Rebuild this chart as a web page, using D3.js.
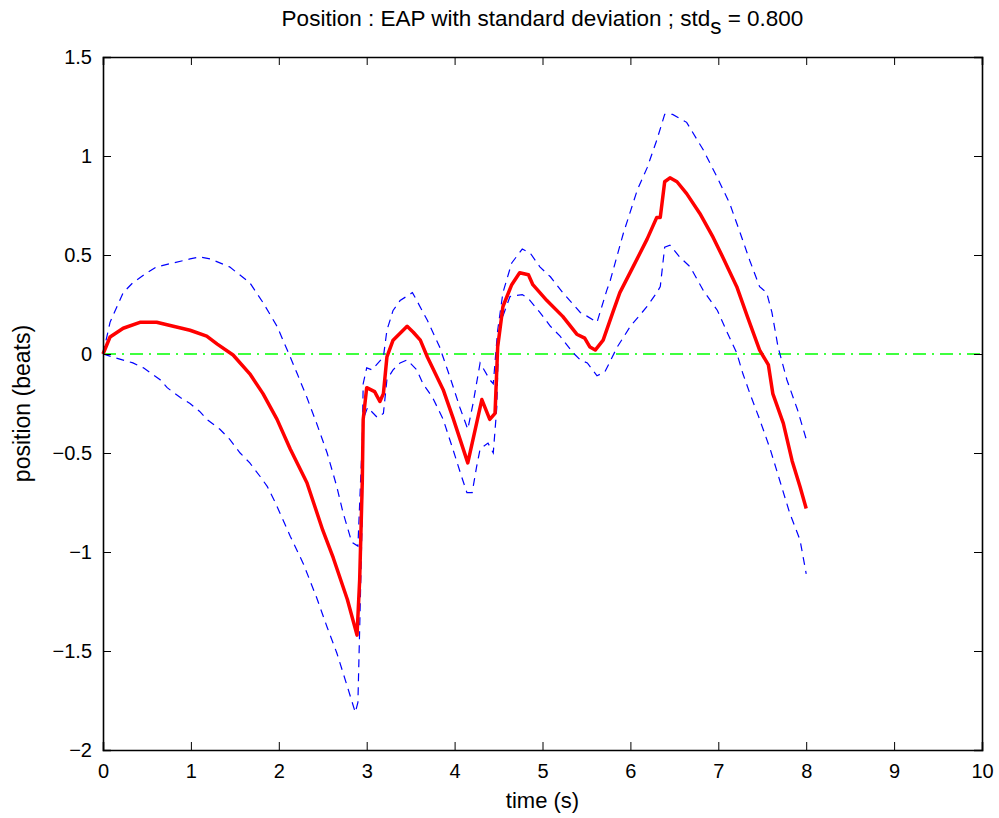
<!DOCTYPE html>
<html>
<head>
<meta charset="utf-8">
<script src="https://cdn.jsdelivr.net/npm/d3@7"></script>
<style>
  body { margin: 0; background: #fff; }
  svg { font-family: "Liberation Sans", Arial, sans-serif; }
</style>
</head>
<body>
<svg id="output"></svg>
<script>
// mean position (EAP), [time, beats]
const meanSeries = [
  [0,0],[0.08,0.086],[0.23,0.13],[0.42,0.16],[0.61,0.16],[0.80,0.14],[0.99,0.12],[1.18,0.09],
  [1.30,0.05],[1.48,-0.005],[1.67,-0.10],[1.82,-0.20],[1.98,-0.33],[2.13,-0.48],[2.32,-0.65],
  [2.50,-0.89],[2.62,-1.03],[2.78,-1.24],[2.89,-1.42],[2.92,-1.14],[2.95,-0.64],[2.96,-0.33],
  [3.00,-0.17],[3.09,-0.19],[3.15,-0.24],[3.19,-0.20],[3.23,-0.015],[3.30,0.07],[3.46,0.14],
  [3.53,0.11],[3.61,0.07],[3.69,-0.015],[3.87,-0.18],[3.98,-0.32],[4.15,-0.55],[4.25,-0.35],
  [4.31,-0.23],[4.40,-0.33],[4.46,-0.30],[4.49,0.035],[4.55,0.24],[4.65,0.35],[4.74,0.41],
  [4.84,0.40],[4.89,0.35],[5.05,0.27],[5.23,0.19],[5.39,0.10],[5.48,0.08],[5.54,0.035],
  [5.60,0.02],[5.69,0.07],[5.80,0.21],[5.88,0.31],[6.03,0.44],[6.19,0.58],[6.30,0.69],
  [6.34,0.69],[6.39,0.87],[6.45,0.89],[6.53,0.87],[6.64,0.81],[6.79,0.71],[6.94,0.59],
  [7.05,0.49],[7.21,0.34],[7.33,0.19],[7.47,0.02],[7.57,-0.055],[7.62,-0.20],[7.74,-0.35],
  [7.84,-0.54],[7.93,-0.67],[8.00,-0.78]
];

// mean + std
const upperSeries = [
  [0,0],[0.08,0.16],[0.23,0.31],[0.34,0.36],[0.50,0.41],[0.61,0.44],[0.80,0.46],[0.99,0.48],
  [1.10,0.49],[1.22,0.48],[1.44,0.44],[1.67,0.36],[1.82,0.26],[1.98,0.14],[2.13,-0.015],
  [2.21,-0.10],[2.32,-0.22],[2.43,-0.35],[2.55,-0.50],[2.66,-0.67],[2.73,-0.80],[2.83,-0.95],
  [2.90,-0.97],[2.95,-0.43],[2.96,-0.15],[3.00,-0.07],[3.06,-0.08],[3.19,-0.015],[3.23,0.12],
  [3.30,0.22],[3.38,0.27],[3.52,0.31],[3.57,0.27],[3.69,0.17],[3.83,0.035],[3.95,-0.12],
  [4.06,-0.27],[4.15,-0.38],[4.21,-0.25],[4.29,-0.045],[4.40,-0.13],[4.44,-0.15],[4.49,0.12],
  [4.55,0.31],[4.65,0.46],[4.77,0.53],[4.86,0.51],[4.97,0.44],[5.09,0.39],[5.23,0.31],
  [5.43,0.21],[5.51,0.19],[5.62,0.16],[5.73,0.32],[5.77,0.37],[5.92,0.61],[6.08,0.83],
  [6.19,0.94],[6.30,1.08],[6.39,1.21],[6.48,1.21],[6.64,1.17],[6.83,1.03],[6.99,0.89],
  [7.13,0.76],[7.25,0.61],[7.36,0.47],[7.47,0.34],[7.55,0.31],[7.61,0.21],[7.68,0.035],
  [7.78,-0.13],[7.90,-0.28],[8.00,-0.43]
];

// mean - std
const lowerSeries = [
  [0,0],[0.11,-0.015],[0.34,-0.045],[0.46,-0.07],[0.65,-0.13],[0.73,-0.17],[0.88,-0.22],
  [0.99,-0.25],[1.10,-0.29],[1.18,-0.33],[1.33,-0.38],[1.44,-0.43],[1.56,-0.50],[1.67,-0.55],
  [1.79,-0.62],[1.87,-0.67],[1.96,-0.75],[2.01,-0.80],[2.13,-0.92],[2.28,-1.06],[2.43,-1.23],
  [2.55,-1.38],[2.66,-1.51],[2.78,-1.68],[2.87,-1.81],[2.90,-1.76],[2.92,-1.39],[2.95,-0.80],
  [2.96,-0.33],[3.01,-0.27],[3.12,-0.32],[3.19,-0.30],[3.23,-0.13],[3.30,-0.08],[3.38,-0.045],
  [3.46,-0.03],[3.57,-0.08],[3.64,-0.15],[3.75,-0.22],[3.87,-0.33],[3.98,-0.48],[4.08,-0.62],
  [4.14,-0.70],[4.20,-0.70],[4.25,-0.57],[4.29,-0.48],[4.38,-0.45],[4.44,-0.50],[4.48,-0.27],
  [4.50,0.07],[4.54,0.18],[4.63,0.29],[4.77,0.30],[4.84,0.28],[4.97,0.21],[5.09,0.14],
  [5.20,0.09],[5.35,0.005],[5.43,-0.03],[5.51,-0.045],[5.62,-0.11],[5.71,-0.09],[5.85,0.035],
  [6.00,0.14],[6.19,0.24],[6.30,0.31],[6.34,0.34],[6.39,0.54],[6.45,0.55],[6.56,0.49],
  [6.68,0.44],[6.83,0.32],[6.99,0.22],[7.10,0.11],[7.21,0.005],[7.28,-0.10],[7.36,-0.20],
  [7.47,-0.33],[7.59,-0.48],[7.70,-0.64],[7.81,-0.80],[7.93,-0.94],[8.00,-1.11]
];

// reference line
const zeroLine = [[0,0],[10,0]];

const xTicks = [0,1,2,3,4,5,6,7,8,9,10];
const yTicks = [-2,-1.5,-1,-0.5,0,0.5,1,1.5];

const width = 999, height = 818;
const margin = {left: 103, right: 17, top: 57, bottom: 68};
const plotW = width - margin.left - margin.right;
const plotH = height - margin.top - margin.bottom;

const svg = d3.select("#output")
    .attr("width", width)
    .attr("height", height);

const xScale = d3.scaleLinear().domain([0,10]).range([0, plotW]);
const yScale = d3.scaleLinear().domain([-2,1.5]).range([plotH, 0]);

const g = svg.append("g").attr("transform", `translate(${margin.left},${margin.top})`);

const line = d3.line()
    .x(d => xScale(d[0]))
    .y(d => yScale(d[1]));

// zero reference, dash-dot green
g.append("path")
    .datum(zeroLine)
    .attr("d", line)
    .attr("fill", "none")
    .attr("stroke", "#00ff00")
    .attr("stroke-width", 1.3)
    .attr("stroke-dasharray", "13,6,2,6");

// mean +/- std, dashed blue
[upperSeries, lowerSeries].forEach(s => {
  g.append("path")
      .datum(s)
      .attr("d", line)
      .attr("fill", "none")
      .attr("stroke", "#0000ff")
      .attr("stroke-width", 1.2)
      .attr("stroke-dasharray", "8,6");
});

// mean, red thick
g.append("path")
    .datum(meanSeries)
    .attr("d", line)
    .attr("fill", "none")
    .attr("stroke", "#ff0000")
    .attr("stroke-width", 3.5)
    .attr("stroke-linejoin", "round");

// axes, ticks pointing inward, on all sides
const fmt = d => d < 0 ? "\u2212" + Math.abs(d) : String(d);
const tickLen = 8;

const xAxisB = d3.axisBottom(xScale).tickValues(xTicks).tickSize(-tickLen).tickPadding(14).tickFormat(fmt);
const xAxisT = d3.axisTop(xScale).tickValues(xTicks).tickSize(-tickLen).tickFormat("");
const yAxisL = d3.axisLeft(yScale).tickValues(yTicks).tickSize(-tickLen).tickPadding(11).tickFormat(fmt);
const yAxisR = d3.axisRight(yScale).tickValues(yTicks).tickSize(-tickLen).tickFormat("");

function style(sel) {
  sel.select(".domain").attr("stroke", "#000").attr("stroke-width", 1.6);
  sel.selectAll(".tick line").attr("stroke", "#000").attr("stroke-width", 1);
  sel.selectAll(".tick text").attr("fill", "#000").attr("font-size", 20)
     .attr("font-family", "Liberation Sans, Arial, sans-serif");
}

g.append("g").attr("transform", `translate(0,${plotH})`).call(xAxisB).call(style);
g.append("g").call(xAxisT).call(style);
g.append("g").call(yAxisL).call(style);
g.append("g").attr("transform", `translate(${plotW},0)`).call(yAxisR).call(style);

// labels
svg.append("text")
    .attr("x", margin.left + plotW / 2)
    .attr("y", 808)
    .attr("text-anchor", "middle")
    .attr("font-size", 22)
    .text("time (s)");

svg.append("text")
    .attr("transform", `translate(30,${margin.top + plotH / 2}) rotate(-90)`)
    .attr("text-anchor", "middle")
    .attr("font-size", 23)
    .text("position (beats)");

const title = svg.append("text")
    .attr("x", margin.left + plotW / 2)
    .attr("y", 26)
    .attr("text-anchor", "middle")
    .attr("font-size", 22.5);
title.append("tspan").text("Position : EAP with standard deviation ; std");
title.append("tspan").attr("dy", 8).text("s");
title.append("tspan").attr("dy", -8).text(" = 0.800");
</script>
</body>
</html>
